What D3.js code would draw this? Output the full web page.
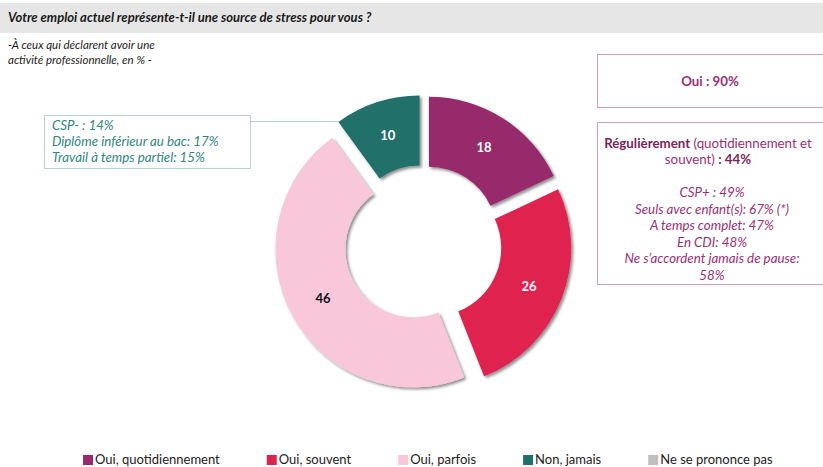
<!DOCTYPE html>
<meta charset="utf-8">
<style>
body { margin: 0; background: #fff; }
svg { font-family: Lato, "Open Sans", sans-serif; }
.title { font-size: 13px; font-weight: bold; font-style: italic; fill: #1a1a1a; }
.sub { font-size: 11.5px; font-style: italic; fill: #222; }
.note-l { font-size: 13.3px; font-style: italic; fill: #2f8582; }
.note-r { font-size: 13.3px; fill: #9a2f73; }
.slice-label { font-size: 13px; font-weight: bold; }
.legend text { font-size: 13px; fill: #222; }
</style>
<svg width="823" height="467">
<defs>
  <filter id="drop-shadow" x="-20%" y="-20%" width="140%" height="140%">
    <feGaussianBlur in="SourceAlpha" stdDeviation="1.6"></feGaussianBlur>
    <feOffset dx="2" dy="2" result="offsetblur"></feOffset>
    <feFlood flood-color="rgba(0,0,0,0.45)"></feFlood>
    <feComposite in2="offsetblur" operator="in"></feComposite>
    <feMerge>
      <feMergeNode></feMergeNode>
      <feMergeNode in="SourceGraphic"></feMergeNode>
    </feMerge>
  </filter>
</defs>
</svg>
<script src="https://d3js.org/d3.v7.min.js"></script>
<script>

var categories = ["Oui, quotidiennement", "Oui, souvent", "Oui, parfois", "Non, jamais", "Ne se prononce pas"],
    values = [18, 26, 46, 10, 0],
    colors = ["#962a6b", "#e0224f", "#f9c7da", "#22706a", "#bfbfbf"],
    labelColors = ["#fff", "#fff", "#111", "#fff", "#111"];

var leftNote = ["CSP- : 14%", "Diplôme inférieur au bac: 17%", "Travail à temps partiel: 15%"],
    rightNote = ["CSP+ : 49%", "Seuls avec enfant(s): 67% (*)", "A temps complet: 47%", "En CDI: 48%", "Ne s’accordent jamais de pause:", "58%"];

var data = categories.map(function(c, i) { return {name: c, value: values[i], color: colors[i], lc: labelColors[i]}; });

var svg = d3.select("svg");

// title band
svg.append("rect").attr("x", 0).attr("y", 3).attr("width", 823).attr("height", 30).attr("fill", "#e6e6e6");
svg.append("text").attr("class", "title").attr("x", 8).attr("y", 22)
    .text("Votre emploi actuel représente-t-il une source de stress pour vous ?");
svg.append("text").attr("class", "sub").attr("x", 8).attr("y", 49).text("-À ceux qui déclarent avoir une");
svg.append("text").attr("class", "sub").attr("x", 8).attr("y", 64).text("activité professionnelle, en % -");

// donut
var cx = 423, cy = 244, R = 138, r = 68, explode = 11;

var pie = d3.pie().sort(null).value(function(d) { return d.value; });
var arc = d3.arc().innerRadius(r).outerRadius(R);
var arcs = pie(data).filter(function(d) { return d.data.value > 0; });

function shift(d) {
  var a = (d.startAngle + d.endAngle) / 2;
  return [Math.sin(a) * explode, -Math.cos(a) * explode];
}

var g = svg.append("g").attr("transform", "translate(" + cx + "," + cy + ")");

g.selectAll("path")
    .data(arcs)
    .enter()
    .append("path")
    .attr("d", arc)
    .attr("fill", function(d) { return d.data.color; })
    .attr("filter", "url(#drop-shadow)")
    .attr("transform", function(d) { return "translate(" + shift(d) + ")"; });

g.selectAll(".slice-label")
    .data(arcs)
    .enter()
    .append("text")
    .attr("class", "slice-label")
    .attr("text-anchor", "middle")
    .attr("dy", "0.35em")
    .attr("x", function(d) { return arc.centroid(d)[0] + shift(d)[0]; })
    .attr("y", function(d) { return arc.centroid(d)[1] + shift(d)[1]; })
    .attr("fill", function(d) { return d.data.lc; })
    .text(function(d) { return d.data.value; });

// left callout
svg.append("rect").attr("x", 44.5).attr("y", 115.5).attr("width", 206).attr("height", 53)
    .attr("fill", "none").attr("stroke", "#6aa6a3").attr("stroke-width", 1).attr("stroke-dasharray", "1,1");
svg.append("line").attr("x1", 250.5).attr("y1", 121.5).attr("x2", 340).attr("y2", 121.5)
    .attr("stroke", "#6aa6a3").attr("stroke-width", 1).attr("stroke-dasharray", "1,1");
svg.selectAll(".note-l")
    .data(leftNote)
    .enter()
    .append("text")
    .attr("class", "note-l")
    .attr("x", 52)
    .attr("y", function(d, i) { return 130 + i * 16; })
    .text(function(d) { return d; });

// right callouts
svg.append("rect").attr("x", 597.5).attr("y", 54.5).attr("width", 240).attr("height", 53)
    .attr("fill", "none").attr("stroke", "#a0417f").attr("stroke-width", 1).attr("stroke-dasharray", "1,1");
svg.append("text").attr("class", "note-r").attr("x", 710).attr("y", 86).attr("text-anchor", "middle")
    .attr("font-weight", "bold").attr("fill", "#8a2562").text("Oui : 90%");

svg.append("rect").attr("x", 597.5).attr("y", 122.5).attr("width", 240).attr("height", 162)
    .attr("fill", "none").attr("stroke", "#a0417f").attr("stroke-width", 1).attr("stroke-dasharray", "1,1");
var t1 = svg.append("text").attr("class", "note-r").attr("x", 708).attr("y", 148).attr("text-anchor", "middle");
t1.append("tspan").attr("font-weight", "bold").attr("fill", "#7c1f58").text("Régulièrement");
t1.append("tspan").text(" (quotidiennement et");
var t2 = svg.append("text").attr("class", "note-r").attr("x", 708).attr("y", 164).attr("text-anchor", "middle");
t2.append("tspan").text("souvent)");
t2.append("tspan").attr("font-weight", "bold").attr("fill", "#7c1f58").text(" : 44%");

svg.selectAll(".note-r2")
    .data(rightNote)
    .enter()
    .append("text")
    .attr("class", "note-r")
    .attr("font-style", "italic")
    .attr("x", 712)
    .attr("y", function(d, i) { return 197 + i * 16.5; })
    .attr("text-anchor", "middle")
    .text(function(d) { return d; });

// legend
var legend = svg.append("g").attr("class", "legend");
var lx = 83;
data.forEach(function(d) {
  var item = legend.append("g").attr("transform", "translate(" + lx + ",0)");
  item.append("rect").attr("x", 0).attr("y", 455).attr("width", 10).attr("height", 10).attr("fill", d.color);
  var t = item.append("text").attr("x", 12).attr("y", 464).text(d.name);
  lx += 12 + t.node().getComputedTextLength() + 47;
});

</script>
